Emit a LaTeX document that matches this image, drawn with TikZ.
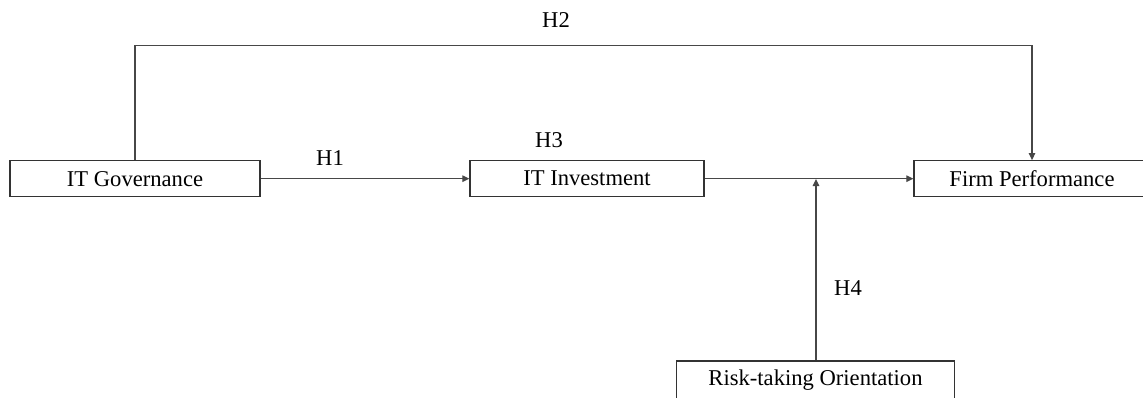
\documentclass[tikz,border=0pt]{standalone}
\usepackage{fontspec}
\setmainfont{Liberation Serif}
\usetikzlibrary{arrows.meta}
\begin{document}
\begin{tikzpicture}[x=1pt,y=-1pt,
  box/.style={draw=black!80,line width=1.2pt,minimum height=36pt,inner sep=0pt,font=\fontsize{22.6}{26}\selectfont},
  lab/.style={inner sep=0pt,font=\fontsize{22.6}{26}\selectfont},
  conn/.style={draw=black!72,line width=1.1pt},
  arr/.style={conn,-{Triangle[length=7pt,width=6.5pt]}}]
\useasboundingbox (0,0) rectangle (1143,397);
\clip (0,0) rectangle (1143,397);
\node[box,minimum width=250pt] (gov) at (135,178.7) {IT Governance};
\node[box,minimum width=234pt] (inv) at (587,178.7) {IT Investment};
\node[box,minimum width=236pt] (perf) at (1032,178.7) {Firm Performance};
\node[box,minimum width=278pt,minimum height=38pt] (risk) at (815.5,380) {Risk-taking Orientation};
\coordinate (top) at (0,45.7);
\coordinate (mod) at (816,179);
\draw[arr] (gov.east) -- (inv.west);
\draw[arr] (inv.east) -- (perf.west);
\draw[arr] (risk.north -| mod) -- (mod);
\draw[arr] (gov.north) -- (gov.north |- top) -| (perf.north);
\node[lab] (h2) at (556,20) {H2};
\node[lab] (h1) at (330,158) {H1};
\node[lab] (h3) at (549,140) {H3};
\node[lab] (h4) at (848,288) {H4};
\end{tikzpicture}
\end{document}
